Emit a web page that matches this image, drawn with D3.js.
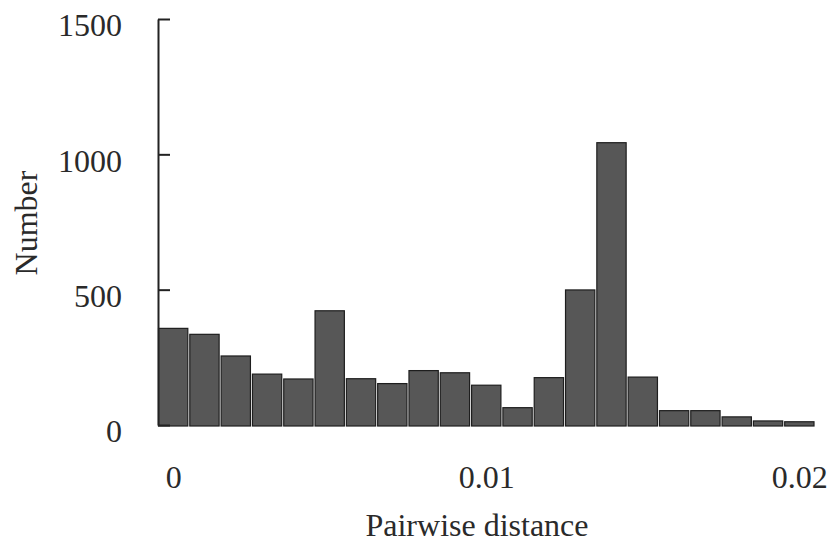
<!DOCTYPE html>
<html>
<head>
<meta charset="utf-8">
<script src="https://cdn.jsdelivr.net/npm/d3@7"></script>
<style>
  body { margin: 0; background: #fff; }
  text { font-family: "Liberation Serif", "Times New Roman", serif; fill: #2a2a2a; }
</style>
</head>
<body>
<script>
// bin centres (pairwise distance) and counts
var binCenters = [0, 0.001, 0.002, 0.003, 0.004, 0.005, 0.006, 0.007, 0.008, 0.009, 0.010,
                  0.011, 0.012, 0.013, 0.014, 0.015, 0.016, 0.017, 0.018, 0.019, 0.020];
var counts = [357, 335, 255, 188, 170, 422, 171, 153, 201, 193, 147,
              64, 175, 499, 1043, 177, 53, 53, 30, 15, 12];
var binWidth = 0.001;
var yTicks = [0, 500, 1000, 1500];
var xTicks = [0, 0.01, 0.02];

var width = 830, height = 544;

var svg = d3.select("body").append("svg")
  .attr("width", width)
  .attr("height", height);

var x = d3.scaleLinear()
  .domain([-0.0005, 0.0205])
  .range([157.5, 815]);

var y = d3.scaleLinear()
  .domain([0, 1500])
  .range([425, 19]);

// bars
svg.append("g").selectAll("rect")
  .data(binCenters)
  .enter()
  .append("rect")
  .attr("x", function(d) { return x(d - binWidth / 2) + 1; })
  .attr("width", function(d) { return x(d + binWidth / 2) - x(d - binWidth / 2) - 2; })
  .attr("y", function(d, i) { return y(counts[i]); })
  .attr("height", function(d, i) { return y(0) - y(counts[i]) + 1; })
  .attr("fill", "#575757")
  .attr("stroke", "#1e1e1e")
  .attr("stroke-width", 1.2);

// y axis, ticks point inward
var yAxis = svg.append("g")
  .attr("transform", "translate(158,0)")
  .call(d3.axisLeft(y)
    .tickValues(yTicks)
    .tickSizeInner(-12)
    .tickSizeOuter(0)
    .tickPadding(36)
    .tickFormat(d3.format("d")));
yAxis.selectAll("path, line").attr("stroke", "#222").attr("stroke-width", 2);
yAxis.selectAll("text")
  .attr("dy", "0.53em")
  .style("font-size", "32px")
  .style("fill", "#2a2a2a");

// x axis labels (centred on bins)
var xAxis = svg.append("g")
  .attr("transform", "translate(0,425)")
  .call(d3.axisBottom(x)
    .tickValues(xTicks)
    .tickSize(0)
    .tickPadding(40)
    .tickFormat(function(d) { return String(d); }));
xAxis.select(".domain").remove();
xAxis.selectAll("text")
  .style("font-size", "32px")
  .style("fill", "#2a2a2a");

// axis titles
svg.append("text")
  .attr("x", 477)
  .attr("y", 536)
  .attr("text-anchor", "middle")
  .style("font-size", "32px")
  .text("Pairwise distance");

svg.append("text")
  .attr("transform", "translate(37,223) rotate(-90)")
  .attr("text-anchor", "middle")
  .style("font-size", "32px")
  .text("Number");
</script>
</body>
</html>
